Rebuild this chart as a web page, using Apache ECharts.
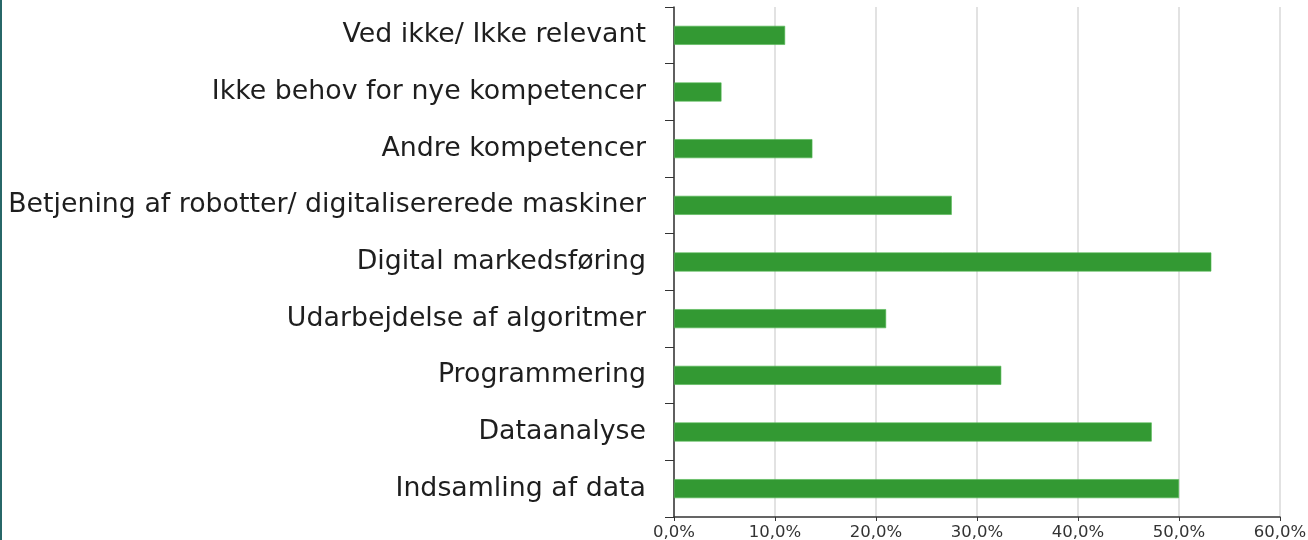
<!DOCTYPE html>
<html>
<head>
<meta charset="utf-8">
<script src="https://cdn.jsdelivr.net/npm/echarts@6/dist/echarts.min.js"></script>
<style>
  html, body { margin: 0; padding: 0; background: #fff; }
  #wrap { position: relative; width: 1308px; height: 540px; }
  #strip { position: absolute; left: 0; top: 0; width: 2px; height: 540px; background: #276768; }
  #chart { position: absolute; left: 0; top: 0; width: 1308px; height: 540px; }
</style>
</head>
<body>
<div id="wrap">
  <div id="chart"></div>
  <div id="strip"></div>
</div>
<script>
// kategorier, oppefra og ned
const categories = [
  'Ved ikke/ Ikke relevant',
  'Ikke behov for nye kompetencer',
  'Andre kompetencer',
  'Betjening af robotter/ digitalisererede maskiner',
  'Digital markedsføring',
  'Udarbejdelse af algoritmer',
  'Programmering',
  'Dataanalyse',
  'Indsamling af data'
]
// andel i procent
const values = [11.0, 4.7, 13.7, 27.5, 53.2, 21.0, 32.4, 47.3, 50.0]
const xTicks = [0, 10, 20, 30, 40, 50, 60]

const chart = echarts.init(document.getElementById('chart'))

chart.setOption({
  animation: false,
  grid: { left: 674, right: 28, top: 7, bottom: 23, outerBoundsMode: 'none' },
  xAxis: {
    type: 'value',
    min: xTicks[0],
    max: xTicks[xTicks.length - 1],
    interval: 10,
    axisLine: { show: true, lineStyle: { color: '#333', width: 1.5 } },
    axisTick: { show: true, length: 4, lineStyle: { color: '#333' } },
    axisLabel: {
      color: '#333',
      fontFamily: 'DejaVu Sans',
      fontSize: 16.5,
      margin: 7,
      formatter: v => v.toFixed(1).replace('.', ',') + '%'
    },
    splitLine: { show: true, lineStyle: { color: '#e2e2e2', width: 2 } }
  },
  yAxis: {
    type: 'category',
    inverse: true,
    data: categories,
    axisLine: { show: true, lineStyle: { color: '#333', width: 1.5 } },
    axisTick: { show: true, length: 9, lineStyle: { color: '#333' } },
    axisLabel: {
      color: '#1e1e1e',
      fontFamily: 'DejaVu Sans',
      fontSize: 26.8,
      margin: 28
    }
  },
  series: [
    {
      type: 'bar',
      data: values,
      barWidth: 19,
      itemStyle: { color: '#339933', borderColor: '#52b852', borderWidth: 0.6 }
    }
  ]
})
</script>
</body>
</html>
